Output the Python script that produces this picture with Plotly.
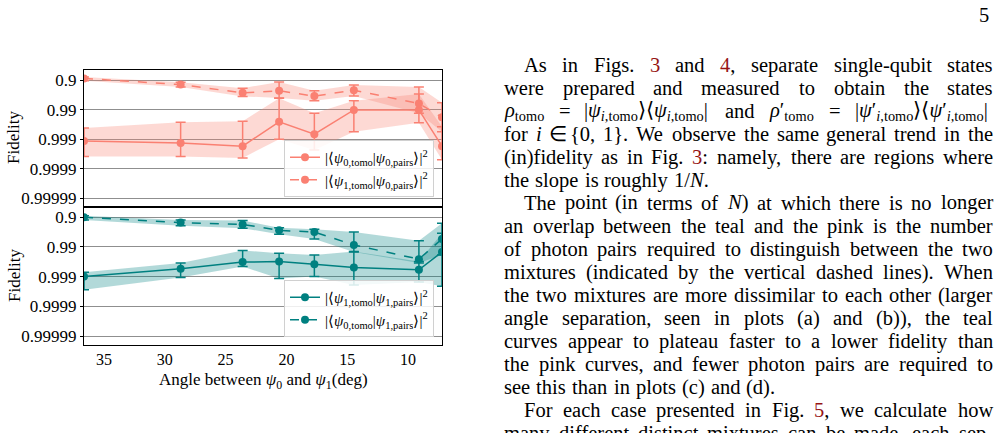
import re
import plotly.graph_objects as go

# ---------------- data ----------------
angles = [36.65, 28.7, 23.6, 20.6, 17.7, 14.45, 9.1, 7.2]

# top panel
f00 = [0.99913, 0.99926, 0.99942, 0.99611, 0.99852, 0.99023, 0.99023, 0.99942]
f00_lo = [0.99760, 0.99628, 0.99593, 0.97550, 0.99241, 0.98000, 0.96610, 0.99737]
f00_hi = [0.99974, 0.99974, 0.99977, 0.99900, 0.99957, 0.99822, 0.99637, 0.99980]

f10 = [0.8852, 0.9292, 0.9628, 0.9563, 0.9712, 0.9543, 0.9838, 0.99450]
f10_lo = [0.8712, 0.9149, 0.9463, 0.9129, 0.9563, 0.9308, 0.9411, 0.98300]
f10_hi = [0.9045, 0.9411, 0.9718, 0.9749, 0.9800, 0.9712, 0.99241, 0.99822]

# bottom panel
f11 = [0.99898, 0.99814, 0.99691, 0.99676, 0.99737, 0.99796, 0.99830, 0.99324]
f11_lo = [0.99859, 0.99712, 0.99241, 0.99383, 0.99463, 0.99292, 0.99676, 0.97120]
f11_hi = [0.99964, 0.99907, 0.99781, 0.99913, 0.99898, 0.99948, 0.99934, 0.99952]

f01 = [0.9000, 0.9339, 0.9425, 0.9637, 0.9684, 0.9883, 0.99611, 0.9814]
f01_lo = [0.8878, 0.9187, 0.9224, 0.9553, 0.9602, 0.9684, 0.9838, 0.9369]
f01_hi = [0.9187, 0.9487, 0.9573, 0.9731, 0.9814, 0.99324, 0.99712, 0.99463]

y_tickvals = [0.1, 0.01, 0.001, 0.0001, 0.00001]
y_ticktext = ["0.9", "0.99", "0.999", "0.9999", "0.99999"]
x_tickvals = [35, 30, 25, 20, 15, 10]

names_top = ["|⟨<i>ψ</i><sub>0,tomo</sub>|<i>ψ</i><sub>0,pairs</sub>⟩|<sup>2</sup>",
             "|⟨<i>ψ</i><sub>1,tomo</sub>|<i>ψ</i><sub>0,pairs</sub>⟩|<sup>2</sup>"]
names_bot = ["|⟨<i>ψ</i><sub>1,tomo</sub>|<i>ψ</i><sub>1,pairs</sub>⟩|<sup>2</sup>",
             "|⟨<i>ψ</i><sub>0,tomo</sub>|<i>ψ</i><sub>1,pairs</sub>⟩|<sup>2</sup>"]

SALMON = "#FA8072"
SALMON_FILL = "rgba(250,128,114,0.30)"
TEAL = "#008080"
TEAL_FILL = "rgba(0,128,128,0.30)"

W, H = 1001, 433
SERIF = "Liberation Serif"

fig = go.Figure()


def band(xa, ya, flo, fhi, fillc):
    up = [1 - f for f in flo]
    dn = [1 - f for f in fhi]
    fig.add_trace(go.Scatter(
        x=angles + angles[::-1], y=up + dn[::-1], mode="lines",
        line=dict(width=0), fill="toself", fillcolor=fillc,
        xaxis=xa, yaxis=ya, showlegend=False, hoverinfo="skip"))


def series(xa, ya, f, flo, fhi, color, dash, name, legend):
    c = [1 - v for v in f]
    up = [1 - v for v in flo]
    dn = [1 - v for v in fhi]
    fig.add_trace(go.Scatter(
        x=angles, y=c, mode="lines+markers", name=name,
        line=dict(color=color, width=1.5, dash=dash),
        marker=dict(color=color, size=8),
        error_y=dict(type="data", symmetric=False,
                     array=[u - m for u, m in zip(up, c)],
                     arrayminus=[m - d for m, d in zip(c, dn)],
                     color=color, thickness=1.5, width=5),
        xaxis=xa, yaxis=ya, legend=legend))


band("x", "y", f00_lo, f00_hi, SALMON_FILL)
band("x", "y", f10_lo, f10_hi, SALMON_FILL)
band("x2", "y2", f11_lo, f11_hi, TEAL_FILL)
band("x2", "y2", f01_lo, f01_hi, TEAL_FILL)
series("x", "y", f00, f00_lo, f00_hi, SALMON, "solid", names_top[0], "legend")
series("x", "y", f10, f10_lo, f10_hi, SALMON, "dash", names_top[1], "legend")
series("x2", "y2", f11, f11_lo, f11_hi, TEAL, "solid", names_bot[0], "legend2")
series("x2", "y2", f01, f01_lo, f01_hi, TEAL, "dash", names_bot[1], "legend2")

xdom = [84 / W, 442 / W]
yrange = [-5.3, -0.655]
common_y = dict(type="log", range=yrange, tickvals=y_tickvals, ticktext=y_ticktext,
                showgrid=True, gridcolor="#8f8f8f", gridwidth=1,
                showline=True, mirror=True, linecolor="black", linewidth=1.2,
                ticks="outside", ticklen=3, tickcolor="black",
                tickfont=dict(family=SERIF, size=17, color="black"), zeroline=False)
common_x = dict(domain=xdom, range=[36.65, 7.2], showgrid=False, zeroline=False,
                showline=True, mirror=True, linecolor="black", linewidth=1.2)

legend_common = dict(bgcolor="rgba(255,255,255,0.85)", bordercolor="#d0d0d0", borderwidth=1,
                     font=dict(family=SERIF, size=15, color="black"),
                     xanchor="right", yanchor="bottom", itemwidth=30,
                     tracegroupgap=0)

fig.update_layout(
    width=W, height=H, margin=dict(l=0, r=0, t=0, b=0),
    paper_bgcolor="white", plot_bgcolor="white",
    xaxis=dict(**common_x, anchor="y", showticklabels=False, ticks=""),
    xaxis2=dict(**common_x, anchor="y2", matches="x", tickvals=x_tickvals,
                ticks="", tickfont=dict(family=SERIF, size=16, color="black")),
    yaxis=dict(**common_y, domain=[1 - 207 / H, 1 - 70 / H], anchor="x"),
    yaxis2=dict(**common_y, domain=[1 - 345 / H, 1 - 207 / H], anchor="x2"),
    legend=dict(**legend_common, x=434 / W, y=1 - 197 / H),
    legend2=dict(**legend_common, x=434 / W, y=1 - 337 / H),
    showlegend=True,
)

annos = []
annos.append(dict(text="Fidelity", x=14 / W, y=1 - 138 / H, textangle=-90))
annos.append(dict(text="Fidelity", x=14 / W, y=1 - 276 / H, textangle=-90))
annos.append(dict(text="Angle between <i>ψ</i><sub>0</sub> and <i>ψ</i><sub>1</sub>(deg)",
                  x=263 / W, y=1 - 381 / H))
for a in annos:
    fig.add_annotation(xref="paper", yref="paper", showarrow=False,
                       xanchor="center", yanchor="middle",
                       font=dict(family=SERIF, size=17, color="black"), **a)

# ---------------- body text on the right (justified word by word) ----------------
RED = "rgb(150,20,20)"
FS = 20.5
LEFT, RIGHT = 503, 992

body_lines = [
    (True, True, "As in Figs. {R}3{/R} and {R}4{/R}, separate single-qubit states"),
    (False, True, "were prepared and measured to obtain the states"),
    (False, True, "<i>ρ</i><sub>tomo</sub> = |<i>ψ</i><sub><i>i</i>,tomo</sub>⟩⟨<i>ψ</i><sub><i>i</i>,tomo</sub>| and "
                  "<i>ρ</i>′<sub>tomo</sub> = |<i>ψ</i>′<sub><i>i</i>,tomo</sub>⟩⟨<i>ψ</i>′<sub><i>i</i>,tomo</sub>|"),
    (False, True, "for <i>i</i> ∈ {0, 1}. We observe the same general trend in the"),
    (False, True, "(in)fidelity as in Fig. {R}3{/R}: namely, there are regions where"),
    (False, False, "the slope is roughly 1/<i>N</i>."),
    (True, True, "The point (in terms of <i>N</i>) at which there is no longer"),
    (False, True, "an overlap between the teal and the pink is the number"),
    (False, True, "of photon pairs required to distinguish between the two"),
    (False, True, "mixtures (indicated by the vertical dashed lines). When"),
    (False, True, "the two mixtures are more dissimilar to each other (larger"),
    (False, True, "angle separation, seen in plots (a) and (b)), the teal"),
    (False, True, "curves appear to plateau faster to a lower fidelity than"),
    (False, True, "the pink curves, and fewer photon pairs are required to"),
    (False, False, "see this than in plots (c) and (d)."),
    (True, True, "For each case presented in Fig. {R}5{/R}, we calculate how"),
    (False, True, "many different distinct mixtures can be made, each sep-"),
]

# Times-compatible advance widths (per 1000 em)
CW = {' ': 250, '(': 333, ')': 333, ',': 250, '-': 333, '.': 250, '/': 278, ':': 278,
      '=': 564, '{': 480, '}': 480, '|': 200, 'ρ': 520, 'ψ': 680, '⟨': 390, '⟩': 390,
      '∈': 670, '′': 280}
for ch in "0123456789":
    CW[ch] = 500
for ch, w in zip("abcdefghijklmnopqrstuvwxyz",
                 [444, 500, 444, 500, 444, 333, 500, 500, 278, 278, 500, 278, 778, 500, 500,
                  500, 500, 333, 389, 278, 500, 500, 722, 500, 500, 444]):
    CW[ch] = w
for ch, w in zip("ABCDEFGHIJKLMNOPQRSTUVWXYZ",
                 [722, 667, 667, 722, 611, 556, 722, 722, 333, 389, 722, 611, 889, 722, 722,
                  556, 722, 667, 556, 611, 722, 722, 944, 722, 722, 611]):
    CW[ch] = w


def est_width(word):
    w = 0.0
    scale = 1.0
    for tok in re.split(r"(<[^>]+>|\{/?R\})", word):
        if not tok:
            continue
        if tok in ("<sub>", "<sup>"):
            scale = 0.7
        elif tok in ("</sub>", "</sup>"):
            scale = 1.0
        elif tok.startswith("<") or tok.startswith("{R") or tok.startswith("{/R"):
            continue
        else:
            for ch in tok:
                w += CW.get(ch, 500) * scale
    return w / 1000.0 * FS


def render(word):
    return word.replace("{R}", f"<span style='color:{RED}'>").replace("{/R}", "</span>")


for k, (indent, justify, txt) in enumerate(body_lines):
    y = 65 + k * 23.0
    x0 = LEFT + (20 if indent else 0)
    words = txt.split(" ")
    widths = [est_width(wd) for wd in words]
    if justify and len(words) > 1:
        gap = (RIGHT - x0 - sum(widths)) / (len(words) - 1)
    else:
        gap = 0.30 * FS
    x = x0
    for wd, ww in zip(words, widths):
        fig.add_annotation(xref="paper", yref="paper", showarrow=False,
                           x=x / W, y=1 - y / H, xanchor="left", yanchor="middle",
                           borderpad=0, text=render(wd),
                           font=dict(family=SERIF, size=FS, color="black"))
        x += ww + gap

fig.add_annotation(xref="paper", yref="paper", showarrow=False, x=991 / W, y=1 - 15 / H,
                   xanchor="right", yanchor="middle", text="5",
                   font=dict(family=SERIF, size=FS, color="black"))

fig.write_html("out.html")
